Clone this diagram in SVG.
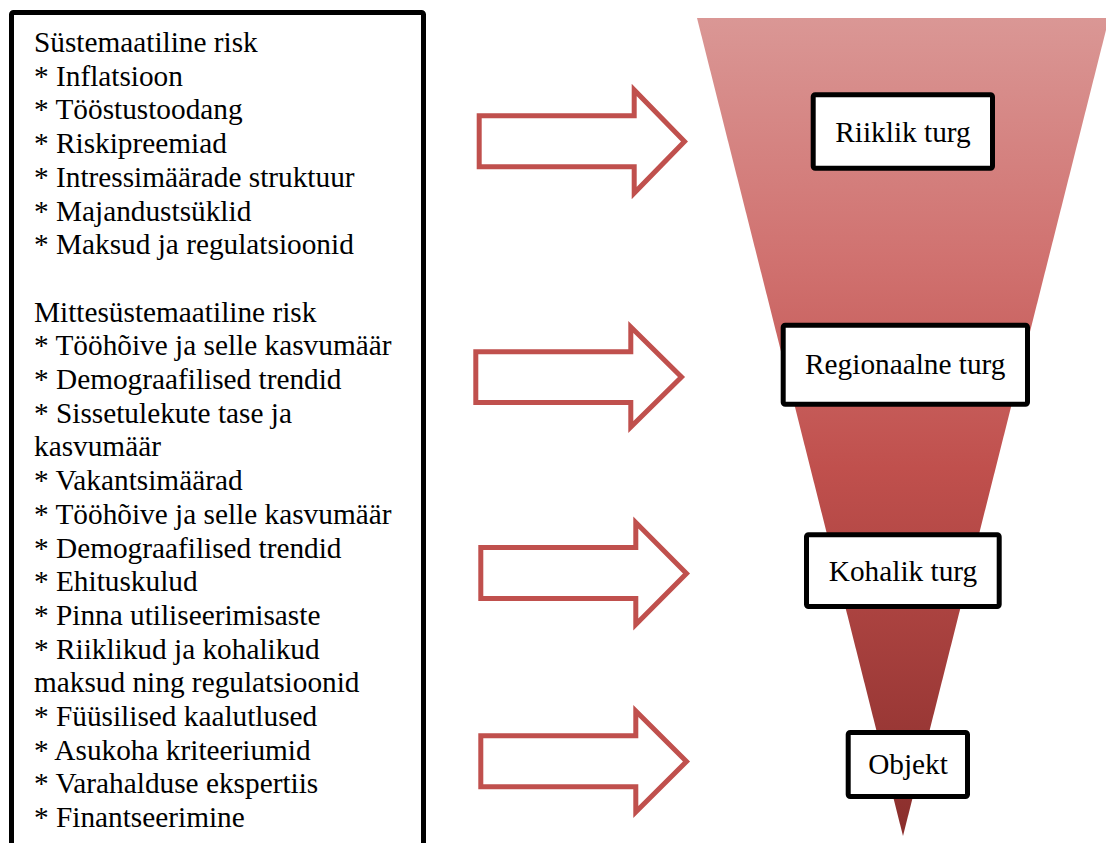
<svg xmlns="http://www.w3.org/2000/svg" width="1106" height="843" viewBox="0 0 1106 843">
<defs>
<linearGradient id="funnelGrad" x1="0" y1="18" x2="0" y2="836" gradientUnits="userSpaceOnUse">
<stop offset="0" stop-color="#da9795"/>
<stop offset="0.3" stop-color="#d0716f"/>
<stop offset="0.55" stop-color="#c0504d"/>
<stop offset="1" stop-color="#8a2e2c"/>
</linearGradient>
<style>
.txt{font-family:"Liberation Serif","Times New Roman",serif;font-size:29.3px;fill:#000}
.box{fill:#fff;stroke:#000;stroke-width:5;stroke-linejoin:round}
.arrow{fill:#fff;stroke:#c0504d;stroke-width:5;stroke-linejoin:miter}
.lbl{text-anchor:middle}
</style>
</defs>
<rect width="1106" height="843" fill="#fff"/>
<g id="risk-list">
<rect x="11.5" y="12.5" width="412" height="850" rx="2" fill="#fff" stroke="#000" stroke-width="5"/>
<text class="txt" x="34">
<tspan x="34" y="52">Süstemaatiline risk</tspan>
<tspan x="34" y="85.7">* Inflatsioon</tspan>
<tspan x="34" y="119.4">* Tööstustoodang</tspan>
<tspan x="34" y="153.1">* Riskipreemiad</tspan>
<tspan x="34" y="186.8">* Intressimäärade struktuur</tspan>
<tspan x="34" y="220.5">* Majandustsüklid</tspan>
<tspan x="34" y="254.2">* Maksud ja regulatsioonid</tspan>
<tspan x="34" y="321.6">Mittesüstemaatiline risk</tspan>
<tspan x="34" y="355.3">* Tööhõive ja selle kasvumäär</tspan>
<tspan x="34" y="389">* Demograafilised trendid</tspan>
<tspan x="34" y="422.7">* Sissetulekute tase ja</tspan>
<tspan x="34" y="456.4">kasvumäär</tspan>
<tspan x="34" y="490.1">* Vakantsimäärad</tspan>
<tspan x="34" y="523.8">* Tööhõive ja selle kasvumäär</tspan>
<tspan x="34" y="557.5">* Demograafilised trendid</tspan>
<tspan x="34" y="591.2">* Ehituskulud</tspan>
<tspan x="34" y="624.9">* Pinna utiliseerimisaste</tspan>
<tspan x="34" y="658.6">* Riiklikud ja kohalikud</tspan>
<tspan x="34" y="692.3">maksud ning regulatsioonid</tspan>
<tspan x="34" y="726">* Füüsilised kaalutlused</tspan>
<tspan x="34" y="759.7">* Asukoha kriteeriumid</tspan>
<tspan x="34" y="793.4">* Varahalduse ekspertiis</tspan>
<tspan x="34" y="827.1">* Finantseerimine</tspan>
</text>
</g>
<g id="funnel">
<polygon points="697,18 1109,18 903,836" fill="url(#funnelGrad)"/>
</g>
<g id="connectors">
<path class="arrow" d="M479.2,115.8 H634.2 V90 L684.5,141.5 L634.2,193 V166.8 H479.2 Z"/>
<path class="arrow" d="M475.8,351.8 H630.8 V327 L681.5,377 L630.8,427 V402.5 H475.8 Z"/>
<path class="arrow" d="M480.8,547.5 H635.8 V522.5 L686.5,573.5 L635.8,624.5 V598.5 H480.8 Z"/>
<path class="arrow" d="M480.8,735.8 H635.8 V711 L686.5,761.5 L635.8,812 V786.8 H480.8 Z"/>
</g>
<g id="node-riiklik">
<rect class="box" x="813.2" y="94.8" width="179.3" height="73.4" rx="2"/>
<text class="txt lbl" x="903" y="141.7">Riiklik turg</text>
</g>
<g id="node-regionaalne">
<rect class="box" x="783.2" y="325.2" width="244.3" height="79" rx="2"/>
<text class="txt lbl" x="905.3" y="374.3">Regionaalne turg</text>
</g>
<g id="node-kohalik">
<rect class="box" x="806.5" y="534.8" width="192.7" height="71.7" rx="2"/>
<text class="txt lbl" x="903" y="581">Kohalik turg</text>
</g>
<g id="node-objekt">
<rect class="box" x="848.2" y="732.5" width="119.3" height="64" rx="2"/>
<text class="txt lbl" x="908" y="774">Objekt</text>
</g>
</svg>
